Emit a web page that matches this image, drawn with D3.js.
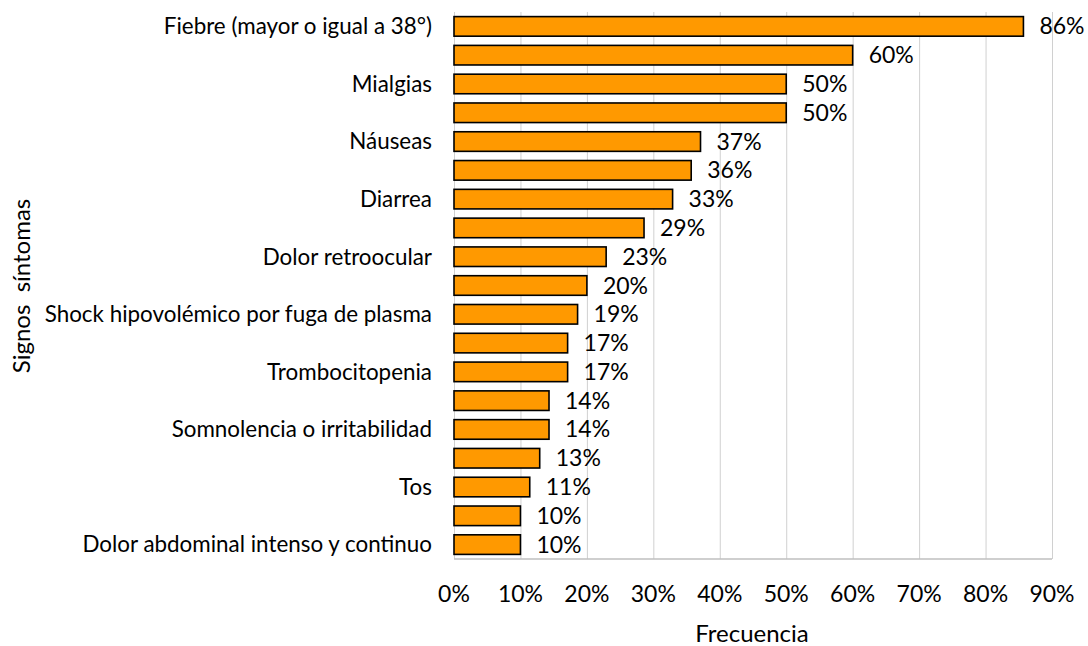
<!DOCTYPE html>
<html>
<head>
<meta charset="utf-8">
<script src="https://cdn.jsdelivr.net/npm/d3@7"></script>
<style>
  body { margin: 0; background: #fff; }
  svg { font-family: Lato, "Open Sans", sans-serif; }
  .grid line { stroke: #d0d0d0; stroke-width: 1; }
  .grid .domain { display: none; }
</style>
</head>
<body>
<svg id="chart" width="1088" height="646"></svg>
<script>
// symptom labels as printed (Excel skipped every other one)
var categories = [
    "Fiebre (mayor o igual a 38°)", "", "Mialgias", "", "Náuseas", "",
    "Diarrea", "", "Dolor retroocular", "", "Shock hipovolémico por fuga de plasma", "",
    "Trombocitopenia", "", "Somnolencia o irritabilidad", "", "Tos", "",
    "Dolor abdominal intenso y continuo"
];
// percent of cases
var values = [85.7, 60, 50, 50, 37.1, 35.7, 32.9, 28.6, 22.9, 20, 18.6, 17.1, 17.1, 14.3, 14.3, 12.9, 11.4, 10, 10];
var xTicks = [0, 10, 20, 30, 40, 50, 60, 70, 80, 90];

var svg = d3.select("#chart");
var margin = {top: 12, right: 36, bottom: 87, left: 454},
    wd = 1088 - margin.left - margin.right,
    ht = 646 - margin.top - margin.bottom;

var g = svg.append("g")
    .attr("transform", "translate(" + margin.left + "," + margin.top + ")");

var x = d3.scaleLinear().domain([0, 90]).range([0, 598]);
var y = d3.scaleBand()
    .domain(d3.range(categories.length))
    .range([0, ht])
    .paddingInner(0.32)
    .paddingOuter(0.16);

// vertical gridlines
g.append("g")
    .attr("class", "grid")
    .call(d3.axisBottom(x).tickValues(xTicks).tickSize(ht).tickFormat(""));

// bottom axis line
g.append("line")
    .attr("x1", 0).attr("x2", x(90))
    .attr("y1", ht).attr("y2", ht)
    .attr("stroke", "#bfbfbf").attr("stroke-width", 1.5);

// tick labels
g.selectAll(".xlab")
    .data(xTicks)
    .enter().append("text")
        .attr("class", "xlab")
        .attr("x", function(d) { return x(d); })
        .attr("y", ht + 35)
        .attr("dy", "0.35em")
        .attr("text-anchor", "middle")
        .attr("font-size", 23)
        .attr("fill", "#000")
        .text(function(d) { return d + "%"; });

// bars
g.selectAll(".bar")
    .data(values)
    .enter().append("rect")
        .attr("class", "bar")
        .attr("x", 0)
        .attr("y", function(d, i) { return y(i); })
        .attr("width", function(d) { return x(d); })
        .attr("height", y.bandwidth())
        .attr("fill", "#ff9900")
        .attr("stroke", "#000")
        .attr("stroke-width", 1.6);

// value labels
g.selectAll(".val")
    .data(values)
    .enter().append("text")
        .attr("class", "val")
        .attr("x", function(d) { return x(d) + 16; })
        .attr("y", function(d, i) { return y(i) + y.bandwidth() / 2; })
        .attr("dy", "0.35em")
        .attr("font-size", 23)
        .attr("fill", "#000")
        .text(function(d) { return Math.round(d) + "%"; });

// category labels
g.selectAll(".cat")
    .data(categories)
    .enter().append("text")
        .attr("class", "cat")
        .attr("x", -22)
        .attr("y", function(d, i) { return y(i) + y.bandwidth() / 2; })
        .attr("dy", "0.35em")
        .attr("text-anchor", "end")
        .attr("font-size", 22.4)
        .attr("fill", "#000")
        .text(function(d) { return d; });

// axis titles
svg.append("text")
    .attr("x", 752)
    .attr("y", 634)
    .attr("dy", "0.35em")
    .attr("text-anchor", "middle")
    .attr("font-size", 24)
    .text("Frecuencia");

svg.append("text")
    .attr("transform", "translate(22,286) rotate(-90)")
    .attr("dy", "0.35em")
    .attr("text-anchor", "middle")
    .attr("font-size", 24)
    .attr("xml:space", "preserve")
    .style("white-space", "pre")
    .text("Signos  síntomas");
</script>
</body>
</html>
